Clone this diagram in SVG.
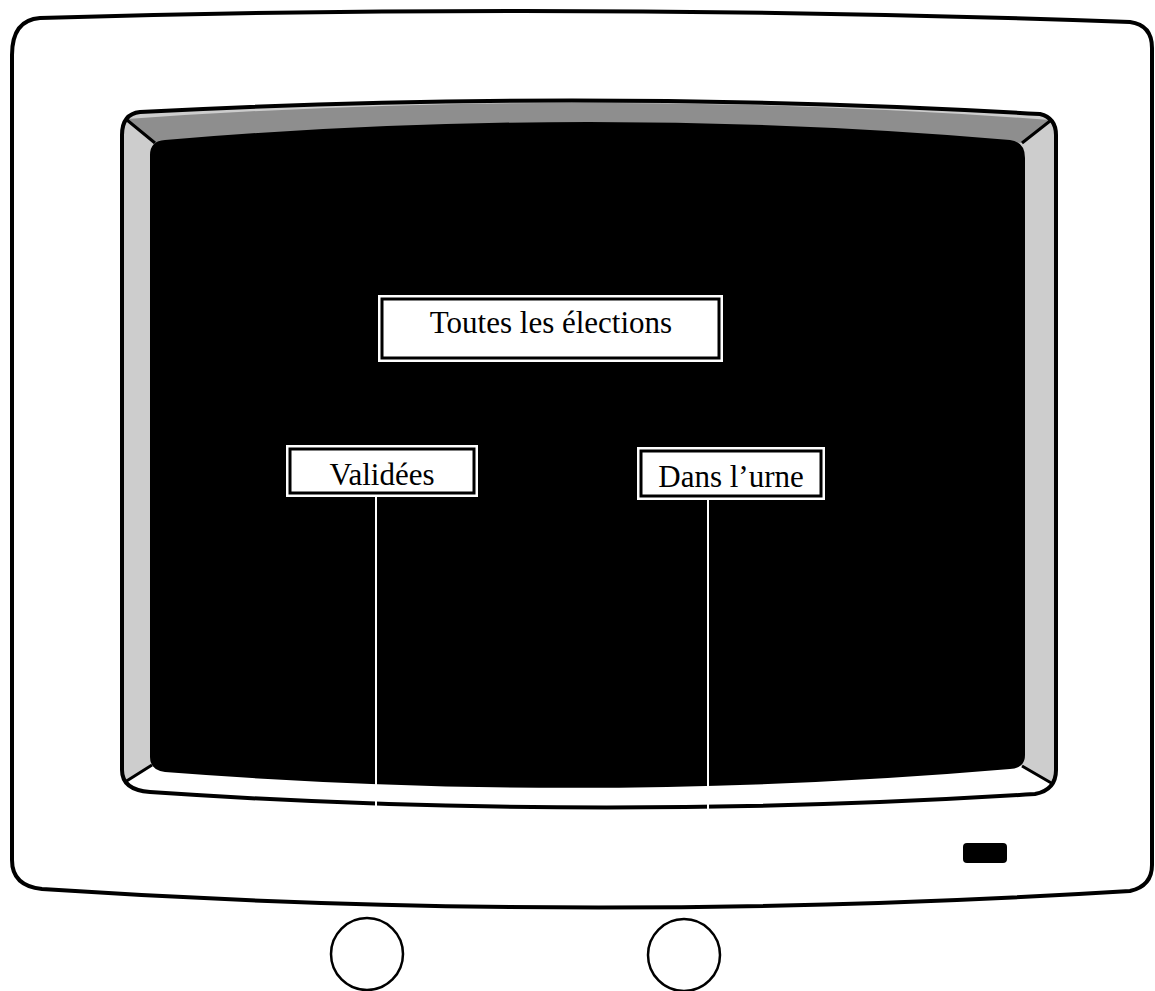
<svg xmlns="http://www.w3.org/2000/svg" width="1155" height="991" viewBox="0 0 1155 991">
<style>
.outline{fill:none;stroke:#000;stroke-width:4;stroke-linejoin:round}
.diag{stroke:#000;stroke-width:3;fill:none}
.frame{fill:#fff}
.inner{fill:#fff;stroke:#000;stroke-width:3}
.lbl{font-family:"Liberation Serif","Times New Roman",serif;font-size:31px;fill:#000;text-anchor:middle}
.conn{stroke:#fff;stroke-width:2;fill:none}
.wheel{fill:#fff;stroke:#000;stroke-width:2.5}
</style>
<rect width="1155" height="991" fill="#fff"/>
<g id="monitor-body">
<path class="outline" d="M40,18 Q580,2 1130,22 Q1152,25 1152,48 L1152,865 Q1152,886 1130,891 Q580,925 42,889 Q12,886 12,860 L12,55 Q12,20 40,18 Z"/>
<rect id="power-button" x="963" y="843" width="44" height="20" rx="4" fill="#000"/>
</g>
<g id="bezel">
<path d="M140,112 Q590,88 1040,114 Q1056,118 1056,135 L1056,770 Q1056,790 1035,794 Q590,822 150,792 Q122,790 122,770 L122,135 Q122,114 140,112 Z" fill="#cdcdcd"/>
<path d="M127,119 Q590,86 1050,120 L1022,143 Q590,104 155,143 Z" fill="#8e8e8e"/>
<path d="M124,783 L152,765 Q590,805 1022,766 L1054,785 L1054,812 L124,812 Z" fill="#fff"/>
<path id="screen" d="M165,140 Q590,104 1010,140 Q1025,142 1025,158 L1025,755 Q1025,768 1010,769 Q590,805 165,772 Q150,770 150,757 L150,155 Q150,141 165,140 Z" fill="#000"/>
<path class="diag" d="M127,120 L155,143 M1050,121 L1022,143 M152,765 L125,782 M1022,766 L1053,784"/>
<path class="outline" d="M140,112 Q590,88 1040,114 Q1056,118 1056,135 L1056,770 Q1056,790 1035,794 Q590,822 150,792 Q122,790 122,770 L122,135 Q122,114 140,112 Z"/>
</g>
<g id="connectors">
<line class="conn" x1="376" y1="497" x2="376" y2="808"/>
<line class="conn" x1="708" y1="500" x2="708" y2="810"/>
</g>
<g id="node-toutes">
<rect class="frame" x="378" y="295" width="345" height="67"/>
<rect class="inner" x="382" y="299" width="337" height="59"/>
<text class="lbl" x="551" y="333">Toutes les élections</text>
</g>
<g id="node-validees">
<rect class="frame" x="286" y="445" width="192" height="52"/>
<rect class="inner" x="290" y="449" width="184" height="44"/>
<text class="lbl" x="382" y="485">Validées</text>
</g>
<g id="node-urne">
<rect class="frame" x="637" y="447" width="188" height="53"/>
<rect class="inner" x="641" y="451" width="180" height="45"/>
<text class="lbl" x="731" y="487">Dans l’urne</text>
</g>
<g id="wheels">
<circle class="wheel" cx="367" cy="954" r="36"/>
<circle class="wheel" cx="684" cy="955" r="36"/>
</g>
</svg>
